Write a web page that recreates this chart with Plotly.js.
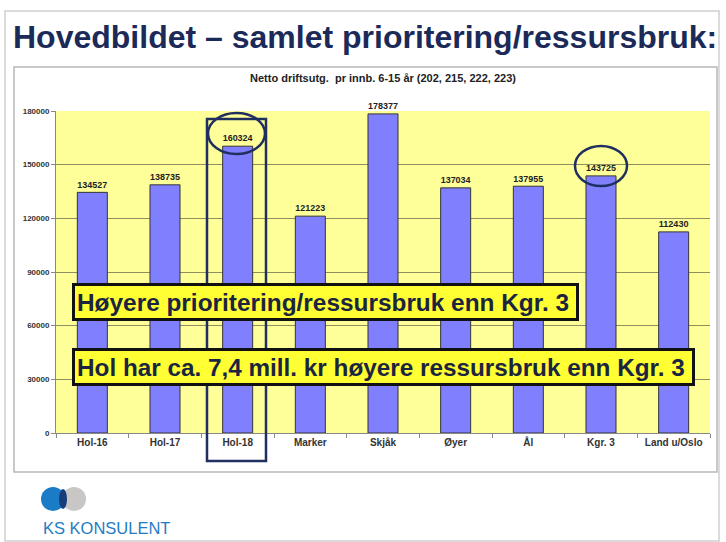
<!DOCTYPE html>
<html>
<head>
<meta charset="utf-8">
<script src="https://cdn.plot.ly/plotly-3.0.1.min.js"></script>
<style>
  html, body { margin: 0; padding: 0; background: #ffffff; }
  #chart { width: 726px; height: 542px; }
</style>
</head>
<body>
<div id="chart"></div>
<script>
var categories = ["Hol-16", "Hol-17", "Hol-18", "Marker", "Skjåk", "Øyer", "Ål", "Kgr. 3", "Land u/Oslo"];
var values = [134527, 138735, 160324, 121223, 178377, 137034, 137955, 143725, 112430];
var yTicks = [0, 30000, 60000, 90000, 120000, 150000, 180000];

var pageTitle = "Hovedbildet – samlet prioritering/ressursbruk:";
var chartTitle = "Netto driftsutg.  pr innb. 6-15 år (202, 215, 222, 223)";
var note1 = "Høyere prioritering/ressursbruk enn Kgr. 3";
var note2 = "Hol har ca. 7,4 mill. kr høyere ressursbruk enn Kgr. 3";
var logoText = "KS KONSULENT";

// pixel -> paper helpers (plot area: x 56..710, y 111..433)
var L = 56, R = 710, T = 111, B = 433;
function px(x) { return (x - L) / (R - L); }
function py(y) { return (B - y) / (B - T); }

var trace = {
  type: "bar",
  x: categories,
  y: values,
  text: values.map(String),
  textposition: "outside",
  cliponaxis: false,
  textfont: { family: "Liberation Sans, Arial, sans-serif", size: 10.5, color: "#222222", weight: "bold" },
  marker: { color: "#8080FF", line: { color: "#333333", width: 1 } },
  hoverinfo: "skip"
};

var layout = {
  width: 726, height: 542,
  margin: { l: L, r: 726 - R, t: T, b: 542 - B, pad: 0 },
  paper_bgcolor: "#ffffff",
  plot_bgcolor: "#FFFF99",
  showlegend: false,
  bargap: 0.587,
  font: { family: "Liberation Sans, Arial, sans-serif" },
  xaxis: {
    type: "category",
    showgrid: false,
    showline: true, linecolor: "#888888", linewidth: 1,
    ticks: "outside", tickson: "boundaries", ticklen: 4, tickcolor: "#888888",
    tickfont: { size: 10, color: "#333333", weight: "bold" },
    fixedrange: true
  },
  yaxis: {
    range: [0, 180000],
    tickvals: yTicks,
    ticktext: yTicks.map(String),
    showgrid: true, gridcolor: "#8f8f60", gridwidth: 1,
    showline: true, linecolor: "#888888", linewidth: 1,
    ticks: "outside", ticklen: 4, tickcolor: "#888888",
    tickfont: { size: 8, color: "#333333", weight: "bold" },
    zeroline: false,
    fixedrange: true
  },
  shapes: [
    // slide outline
    { type: "rect", xref: "paper", yref: "paper", x0: px(5), x1: px(719), y0: py(541), y1: py(11),
      line: { color: "#cfcfcf", width: 1.5 }, layer: "below" },
    // chart box
    { type: "rect", xref: "paper", yref: "paper", x0: px(14), x1: px(717), y0: py(472), y1: py(67),
      line: { color: "#b8b8b8", width: 1.5 }, layer: "below" },
    // Hol-18 highlight rectangle
    { type: "rect", xref: "paper", yref: "paper", x0: px(207), x1: px(266), y0: py(461), y1: py(119),
      line: { color: "#1f2f5f", width: 2.5 } },
    // circle around Hol-18 value
    { type: "circle", xref: "paper", yref: "paper", x0: px(208), x1: px(265), y0: py(154), y1: py(113),
      line: { color: "#1f2f5f", width: 2.5 } },
    // circle around Kgr. 3 value
    { type: "circle", xref: "paper", yref: "paper", x0: px(575), x1: px(627), y0: py(186), y1: py(146),
      line: { color: "#1f2f5f", width: 2.5 } },
    // logo circles
    { type: "circle", xref: "paper", yref: "paper", x0: px(62), x1: px(86), y0: py(511), y1: py(487),
      fillcolor: "#c9c6c6", line: { width: 0 } },
    { type: "circle", xref: "paper", yref: "paper", x0: px(41), x1: px(65), y0: py(511), y1: py(487),
      fillcolor: "#1a7cc6", line: { width: 0 } },
    { type: "circle", xref: "paper", yref: "paper", x0: px(59), x1: px(67), y0: py(509), y1: py(489),
      fillcolor: "#163d7a", line: { width: 0 } }
  ],
  annotations: [
    { text: pageTitle, xref: "paper", yref: "paper", x: px(11), y: py(37), xanchor: "left", yanchor: "middle",
      showarrow: false, font: { size: 32, color: "#1b2a58", weight: "bold" } },
    { text: chartTitle, xref: "paper", yref: "paper", x: 0.5, y: py(78), xanchor: "center", yanchor: "middle",
      showarrow: false, font: { size: 11, color: "#222222", weight: "bold" } },
    { text: note1, xref: "paper", yref: "paper", x: px(325.5), y: py(302), xanchor: "center", yanchor: "middle",
      showarrow: false, align: "left", width: 497, height: 28,
      bgcolor: "#FFFF33", bordercolor: "#111111", borderwidth: 3, borderpad: 2,
      font: { size: 24.4, color: "#1c2540", weight: "bold" } },
    { text: note2, xref: "paper", yref: "paper", x: px(383.5), y: py(367), xanchor: "center", yanchor: "middle",
      showarrow: false, align: "left", width: 613, height: 28,
      bgcolor: "#FFFF33", bordercolor: "#111111", borderwidth: 3, borderpad: 2,
      font: { size: 24.3, color: "#1c2540", weight: "bold" } },
    { text: logoText, xref: "paper", yref: "paper", x: px(41), y: py(528), xanchor: "left", yanchor: "middle",
      showarrow: false, font: { family: "Liberation Sans, Arial, sans-serif", size: 16.5, color: "#1f7bc4" } }
  ]
};

Plotly.newPlot("chart", [trace], layout, { displayModeBar: false, staticPlot: true });
</script>
</body>
</html>
